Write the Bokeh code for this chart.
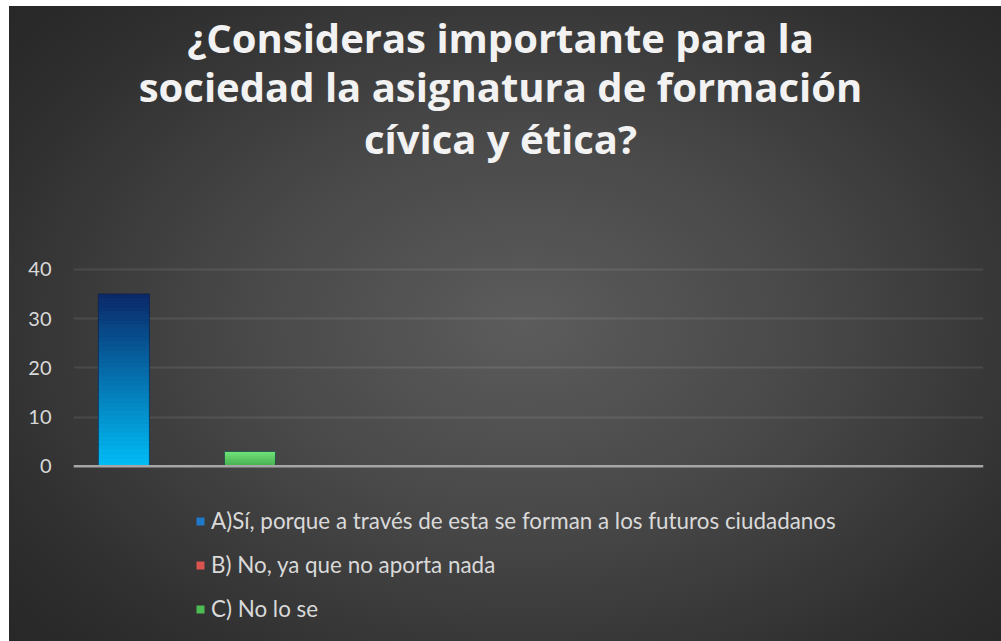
from bokeh.plotting import figure
from bokeh.models import Range1d, FixedTicker, Legend, LegendItem, Label, ColumnDataSource, Span
from bokeh.embed import file_html
from bokeh.resources import INLINE

# ---- data ----
series = ["A)Sí, porque a través de esta se forman a los futuros ciudadanos",
          "B) No, ya que no aporta nada",
          "C) No lo se"]
values = [35, 0, 3]
positions = [1, 2, 3]
y_ticks = [0, 10, 20, 30, 40]
title_lines = ["¿Consideras importante para la",
               "sociedad la asignatura de formación",
               "cívica y ética?"]

# ---- style ----
legend_colors = ["#1f78c8", "#d9534f", "#4cbb52"]
grad_bottom = ["#00bcf5", "#e0605a", "#48ad50"]
grad_top = ["#0b2a6a", "#b03a35", "#72e47c"]
FONT = "Lato"
TFONT = "Open Sans"

W, H = 992, 635
p = figure(width=W, height=H, output_backend="svg", toolbar_location=None,
           x_range=Range1d(0.20, 14.64), y_range=Range1d(-35.63, 93.46),
           x_axis_location=None,
           min_border_left=64, min_border_right=18, min_border_top=0, min_border_bottom=0)
p.styles = {"position": "absolute", "left": "9px", "top": "6px",
            "background": "radial-gradient(ellipse 72% 78% at 52% 50%, #5c5c5c 0%, #484848 40%, #2e2e2e 80%, #262626 100%)"}
p.border_fill_color = None
p.background_fill_color = None
p.outline_line_color = None
p.title = None

def hex2rgb(h):
    h = h.lstrip("#")
    return tuple(int(h[i:i + 2], 16) for i in (0, 2, 4))

def rgb2hex(c):
    return "#%02x%02x%02x" % tuple(int(round(v)) for v in c)

BW = 0.81
items = []
for i, (lab, v, x) in enumerate(zip(series, values, positions)):
    r = p.vbar(x=[x], top=[v], bottom=0, width=BW, fill_color=legend_colors[i], line_color=None)
    items.append(LegendItem(label=lab, renderers=[r]))
    if v > 0:
        n = 40
        c0, c1 = hex2rgb(grad_bottom[i]), hex2rgb(grad_top[i])
        bots, tops, cols = [], [], []
        for k in range(n):
            t = k / (n - 1)
            bots.append(v * k / n)
            tops.append(v * (k + 1) / n)
            cols.append(rgb2hex([a + (b - a) * t for a, b in zip(c0, c1)]))
        src = ColumnDataSource(dict(x=[x] * n, b=bots, t=tops, c=cols))
        p.vbar(x="x", bottom="b", top="t", width=BW, fill_color="c", line_color="c", line_width=0.5, source=src)
        p.vbar(x=[x], top=[v], bottom=0, width=BW, fill_color=None, line_color="#14203a", line_width=1, line_alpha=0.7)

# axes
p.yaxis.ticker = FixedTicker(ticks=y_ticks)
p.yaxis.axis_line_color = None
p.yaxis.major_tick_line_color = None
p.yaxis.minor_tick_line_color = None
p.yaxis.major_label_text_color = "#d9d9d9"
p.yaxis.major_label_text_font_size = "20px"
p.yaxis.major_label_text_font = FONT
p.yaxis.major_label_standoff = 16

p.xgrid.grid_line_color = None
p.ygrid.ticker = FixedTicker(ticks=y_ticks[1:])
p.ygrid.grid_line_color = "#ffffff"
p.ygrid.grid_line_alpha = 0.09
p.ygrid.grid_line_width = 2

p.add_layout(Span(location=y_ticks[0], dimension="width", line_color="#a6a6a6", line_width=2.7))

# title lines (screen units inside the frame)
title_y = [604, 555, 503]
for line, ty in zip(title_lines, title_y):
    p.add_layout(Label(x=427, y=ty, x_units="screen", y_units="screen", text=line,
                       text_align="center", text_baseline="alphabetic",
                       text_font=TFONT, text_font_style="bold", text_font_size="40px",
                       text_color="#f2f2f2"))

legend = Legend(items=items, location=(122, 19), orientation="vertical",
                background_fill_alpha=0, border_line_color=None,
                label_text_color="#d9d9d9", label_text_font_size="22.4px", label_text_font=FONT,
                glyph_width=10, glyph_height=10, label_standoff=6, spacing=17,
                label_height=26, padding=4, margin=0)
p.add_layout(legend, "center")

open("out.html", "w").write(file_html(p, INLINE))
